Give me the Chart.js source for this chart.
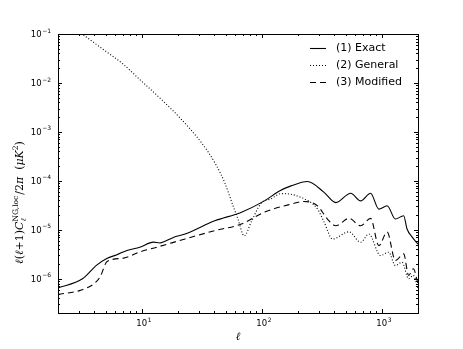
<!DOCTYPE html>
<html>
<head>
<meta charset="utf-8">
<script src="https://cdn.jsdelivr.net/npm/chart.js@4/dist/chart.umd.min.js"></script>
<style>
  html, body { margin: 0; padding: 0; background: #fff; }
  #wrap { width: 463px; height: 349px; }
</style>
</head>
<body>
<div id="wrap"><canvas id="canvas"></canvas></div>
<script>
const ctx = document.getElementById("canvas");

// values (log-log)
const ellExact = [2, 3.2, 4.2, 5.1, 6.2, 7.5, 9.6, 12.5, 14.1, 18.3, 22.9, 40.5, 67, 105, 140, 175, 240, 328, 413, 550, 665, 805, 943, 1106, 1296, 1519, 1621, 1783, 2000];
const clExact = [6.5e-7, 1.0e-6, 1.9e-6, 2.6e-6, 3.1e-6, 3.8e-6, 4.4e-6, 5.6e-6, 5.4e-6, 7.0e-6, 8.2e-6, 1.53e-5, 2.27e-5, 3.9e-5, 6.2e-5, 7.9e-5, 9.7e-5, 5.9e-5, 3.6e-5, 5.6e-5, 3.9e-5, 5.6e-5, 2.65e-5, 3.1e-5, 1.66e-5, 1.94e-5, 1.04e-5, 7.2e-6, 5.1e-6];

const ellGeneral = [2, 3.19, 4.82, 6.82, 10, 14.6, 21.4, 31.4, 40.5, 49, 57.5, 63.2, 71.3, 81.4, 98.6, 119, 145, 212, 291, 330, 388, 532, 665, 778, 973, 1140, 1296, 1473, 1671, 1828, 2000];
const clGeneral = [0.2, 0.0986, 0.0473, 0.0254, 0.0107, 0.00456, 0.00179, 6.0e-4, 2.36e-4, 9.2e-5, 3.09e-5, 1.66e-5, 7.5e-6, 1.44e-5, 3.5e-5, 4.3e-5, 5.5e-5, 4.6e-5, 2.65e-5, 1.44e-5, 6.5e-6, 9.1e-6, 5.57e-6, 8.22e-6, 2.98e-6, 3.49e-6, 1.86e-6, 2.18e-6, 1.0e-6, 1.17e-6, 6.3e-7];

const ellModified = [2, 3.06, 3.98, 4.49, 5.13, 7.05, 9.62, 13.3, 22.9, 40.3, 67.4, 105, 175, 224, 291, 352, 413, 532, 665, 805, 943, 1106, 1296, 1519, 1671, 1828, 2000];
const clModified = [4.8e-7, 5.8e-7, 7.9e-7, 1.1e-6, 2.25e-6, 2.64e-6, 3.54e-6, 4.41e-6, 6.5e-6, 9.6e-6, 1.31e-5, 2.3e-5, 3.34e-5, 3.79e-5, 3.09e-5, 1.66e-5, 1.21e-5, 1.71e-5, 1.21e-5, 1.71e-5, 4.75e-6, 9.0e-6, 2.35e-6, 3.22e-6, 1.17e-6, 1.6e-6, 7.9e-7];

const seriesNames = ["(1) Exact", "(2) General", "(3) Modified"];
const seriesDash = [[], [1, 2], [6, 4]];

const xTicks = [10, 100, 1000];
const yTicks = [1e-6, 1e-5, 1e-4, 1e-3, 1e-2, 1e-1];

function toPoints(xs, ys) {
  return xs.map((x, i) => ({ x: x, y: ys[i] }));
}

const sets = [
  toPoints(ellExact, clExact),
  toPoints(ellGeneral, clGeneral),
  toPoints(ellModified, clModified),
];

// box with inward major/minor ticks on all four sides
const framePlugin = {
  id: "frame",
  afterDraw(chart) {
    const c = chart.ctx;
    const { left, right, top, bottom } = chart.chartArea;
    c.save();
    c.strokeStyle = "#000";
    c.lineWidth = 1;
    c.strokeRect(left + 0.5, top + 0.5, right - left, bottom - top);
    ["x", "y"].forEach((id) => {
      const s = chart.scales[id];
      for (let d = Math.floor(Math.log10(s.min)); d <= Math.ceil(Math.log10(s.max)); d++) {
        for (let k = 1; k <= 9; k++) {
          const v = k * Math.pow(10, d);
          if (v < s.min * 0.999 || v > s.max * 1.001) continue;
          const p = Math.round(s.getPixelForValue(v)) + 0.5;
          const len = k === 1 ? 4 : 2;
          c.beginPath();
          if (id === "x") {
            c.moveTo(p, bottom); c.lineTo(p, bottom - len);
            c.moveTo(p, top); c.lineTo(p, top + len);
          } else {
            c.moveTo(left, p); c.lineTo(left + len, p);
            c.moveTo(right, p); c.lineTo(right - len, p);
          }
          c.stroke();
        }
      }
    });
    c.restore();
  },
};

// "10" with a raised exponent, for the tick labels
function drawPow(c, v, x, y, align) {
  const e = String(Math.round(Math.log10(v))).replace("-", "\u2212");
  c.font = "8.5px 'DejaVu Sans'";
  const wb = c.measureText("10").width;
  c.font = "6px 'DejaVu Sans'";
  const we = c.measureText(e).width;
  const w = wb + we + 0.5;
  let x0 = align === "right" ? x - w : x - w / 2;
  c.textBaseline = "middle";
  c.textAlign = "left";
  c.font = "8.5px 'DejaVu Sans'";
  c.fillText("10", x0, y);
  c.font = "6px 'DejaVu Sans'";
  c.fillText(e, x0 + wb + 0.5, y - 4);
}

const tickLabelPlugin = {
  id: "powTicks",
  afterDraw(chart) {
    const c = chart.ctx;
    const { bottom, left } = chart.chartArea;
    c.save();
    c.fillStyle = "#000";
    xTicks.forEach((v) => drawPow(c, v, chart.scales.x.getPixelForValue(v) + 2, bottom + 11, "center"));
    yTicks.forEach((v) => drawPow(c, v, left - 7, chart.scales.y.getPixelForValue(v) + 1, "right"));
    // x axis title
    c.font = "italic 11px 'DejaVu Serif'";
    c.textAlign = "center";
    c.textBaseline = "middle";
    c.fillText("\u2113", (chart.chartArea.left + chart.chartArea.right) / 2, bottom + 24);
    c.restore();
  },
};

// legend without frame, top right
const legendPlugin = {
  id: "lineLegend",
  afterDraw(chart) {
    const c = chart.ctx;
    c.save();
    c.font = "11px 'DejaVu Sans'";
    c.textBaseline = "middle";
    c.fillStyle = "#000";
    seriesNames.forEach((name, i) => {
      const y = 48.5 + i * 17;
      c.strokeStyle = "#000";
      c.lineWidth = 1.1;
      c.setLineDash(seriesDash[i]);
      c.beginPath();
      c.moveTo(310, y);
      c.lineTo(326, y);
      c.stroke();
      c.setLineDash([]);
      c.fillText(name, 336, y);
    });
    c.restore();
  },
};

// y axis title with sub/superscripts, rotated
const yTitlePlugin = {
  id: "yTitle",
  afterDraw(chart) {
    const c = chart.ctx;
    const segs = [
      { t: "\u2113", it: true },
      { t: "(", it: false },
      { t: "\u2113", it: true },
      { t: "+1)", it: false },
      { t: "C", it: true },
      { t: "\u2113", it: true, small: true, dy: 3, sub: true },
      { t: "NG,loc", it: false, small: true, dy: -5, sup: true },
      { t: "/2", it: false },
      { t: "\u03C0", it: true },
      { t: "  (", it: false },
      { t: "\u03BCK", it: true },
      { t: "2", it: false, small: true, dy: -5 },
      { t: ")", it: false },
    ];
    const fontOf = (s) => (s.it ? "italic " : "") + (s.small ? "7.5px" : "11px") + " 'DejaVu Serif'";
    c.save();
    let total = 0;
    const widths = segs.map((s) => {
      c.font = fontOf(s);
      return c.measureText(s.t).width;
    });
    segs.forEach((s, i) => {
      if (s.sub) return;
      if (s.sup) { total += Math.max(widths[i], widths[i - 1]); return; }
      total += widths[i];
    });
    c.translate(23, 203);
    c.rotate(-Math.PI / 2);
    c.fillStyle = "#000";
    c.textBaseline = "alphabetic";
    let x = -total / 2;
    segs.forEach((s, i) => {
      c.font = fontOf(s);
      c.fillText(s.t, x, (s.dy || 0));
      if (s.sub) return;
      if (s.sup) { x += Math.max(widths[i], widths[i - 1]) + 1; return; }
      x += widths[i];
    });
    c.restore();
  },
};

const config = {
  type: "line",
  data: {
    datasets: sets.map((pts, i) => ({
      label: seriesNames[i],
      data: pts,
      borderColor: "#000",
      borderWidth: 1.1,
      borderDash: seriesDash[i],
      pointRadius: 0,
      fill: false,
      cubicInterpolationMode: "monotone",
    })),
  },
  plugins: [framePlugin, tickLabelPlugin, legendPlugin, yTitlePlugin],
  options: {
    responsive: true,
    maintainAspectRatio: false,
    animation: false,
    layout: { padding: { top: 34, right: 45, left: 0, bottom: 0 } },
    plugins: {
      legend: { display: false },
      tooltip: { enabled: false },
    },
    scales: {
      x: {
        type: "logarithmic",
        min: 2,
        max: 2000,
        grid: { display: false },
        border: { display: false },
        afterBuildTicks: (s) => { s.ticks = xTicks.map((v) => ({ value: v })); },
        afterFit: (s) => { s.height = 36; },
        ticks: { display: false },
      },
      y: {
        type: "logarithmic",
        min: 2e-7,
        max: 0.1,
        grid: { display: false },
        border: { display: false },
        afterBuildTicks: (s) => { s.ticks = yTicks.map((v) => ({ value: v })); },
        afterFit: (s) => { s.width = 58; },
        ticks: { display: false },
      },
    },
  },
};

new Chart(ctx, config);
</script>
</body>
</html>
